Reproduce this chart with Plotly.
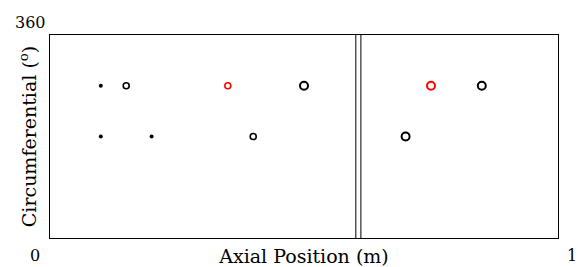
import plotly.graph_objects as go

# Data
dot_x = [0.1, 0.1, 0.2]
dot_y = [270, 180, 180]
small_open_x = [0.15, 0.4]
small_open_y = [270, 180]
small_red_x = [0.35]
small_red_y = [270]
large_open_x = [0.5, 0.7, 0.85]
large_open_y = [270, 180, 270]
large_red_x = [0.75]
large_red_y = [270]
divider_x = [0.602, 0.612]

FONT = "DejaVu Serif"

fig = go.Figure()
fig.add_trace(go.Scatter(x=dot_x, y=dot_y, mode="markers",
                         marker=dict(size=4, color="black"), showlegend=False))
fig.add_trace(go.Scatter(x=small_open_x, y=small_open_y, mode="markers",
                         marker=dict(size=6, symbol="circle-open", color="black", line=dict(width=1.6)),
                         showlegend=False))
fig.add_trace(go.Scatter(x=small_red_x, y=small_red_y, mode="markers",
                         marker=dict(size=6, symbol="circle-open", color="red", line=dict(width=1.6)),
                         showlegend=False))
fig.add_trace(go.Scatter(x=large_open_x, y=large_open_y, mode="markers",
                         marker=dict(size=8, symbol="circle-open", color="black", line=dict(width=2)),
                         showlegend=False))
fig.add_trace(go.Scatter(x=large_red_x, y=large_red_y, mode="markers",
                         marker=dict(size=8, symbol="circle-open", color="red", line=dict(width=2)),
                         showlegend=False))

for dx in divider_x:
    fig.add_shape(type="line", x0=dx, x1=dx, y0=0, y1=360, xref="x", yref="y",
                  line=dict(color="black", width=1))

fig.update_layout(
    width=578, height=267,
    margin=dict(l=50, r=20, t=35, b=29, autoexpand=False),
    paper_bgcolor="white", plot_bgcolor="white",
    font=dict(family=FONT, size=16, color="black"),
    xaxis=dict(range=[0, 1], showgrid=False, zeroline=False, showticklabels=False, ticks="",
               showline=True, linecolor="black", linewidth=1, mirror=True, automargin=False,
               title=dict(text="Axial Position (m)", standoff=11)),
    yaxis=dict(range=[0, 360], showgrid=False, zeroline=False, showticklabels=False, ticks="",
               showline=True, linecolor="black", linewidth=1, mirror=True, automargin=False,
               title=dict(text="Circumferential (<sup>o</sup>)", standoff=7)),
)

fig.add_annotation(text="0", x=0, y=0, xref="paper", yref="paper",
                   xanchor="center", yanchor="middle", xshift=-15, yshift=-17, showarrow=False)
fig.add_annotation(text="1", x=1, y=0, xref="paper", yref="paper",
                   xanchor="center", yanchor="middle", xshift=14, yshift=-17, showarrow=False)
fig.add_annotation(text="360", x=0, y=1, xref="paper", yref="paper",
                   xanchor="center", yanchor="middle", xshift=-20, yshift=13, showarrow=False)

fig.write_html("out.html", config={"displayModeBar": False},
               post_script="document.body.style.margin='0';document.body.style.overflow='hidden';")
